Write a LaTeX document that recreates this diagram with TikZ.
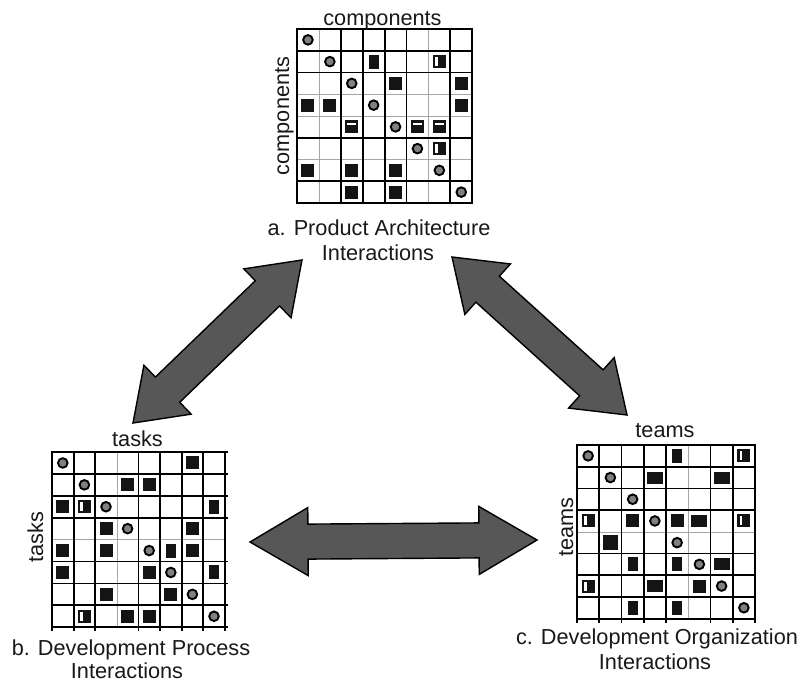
\documentclass[tikz,border=0pt]{standalone}
\usepackage{fontspec}
\setmainfont{Liberation Sans}
\usetikzlibrary{calc}

\tikzset{
  gthick/.style={line width=1.8pt, black, line cap=rect},
  gthin/.style={line width=0.6pt, black!35},
  lbl/.style={font=\fontsize{21.7}{24}\selectfont, inner sep=0pt, anchor=base, text=black!90},
  ring/.style={draw=black, fill=black!50, line width=1.9pt},
  blk/.style={fill=black!92},
  arrowbody/.style={fill=black!66, draw=black, line width=1.4pt, line join=miter},
}

% marks inside a cell (column, row)
\newcommand\dsmSq[2]{\fill[blk] ([shift={(-6.5pt,-6.5pt)}]#1+.5,#2+.5) rectangle ++(13pt,13pt);}
\newcommand\dsmTall[2]{\fill[blk] ([shift={(-5pt,-7pt)}]#1+.5,#2+.5) rectangle ++(10pt,14pt);}
\newcommand\dsmWide[2]{\fill[blk] ([shift={(-8pt,-6pt)}]#1+.5,#2+.5) rectangle ++(16pt,12pt);}
\newcommand\dsmBig[2]{\fill[blk] ([shift={(-7.5pt,-7.5pt)}]#1+.5,#2+.5) rectangle ++(15pt,15pt);}
\newcommand\dsmSide[2]{\dsmSq{#1}{#2}\fill[white] ([shift={(-4pt,-4.5pt)}]#1+.5,#2+.5) rectangle ++(2.6pt,9pt);}
\newcommand\dsmTop[2]{\dsmSq{#1}{#2}\fill[white] ([shift={(-4.5pt,2pt)}]#1+.5,#2+.5) rectangle ++(9pt,2.3pt);}
\newcommand\dsmRing[2]{\draw[ring] (#1+.5,#2+.5) circle (4.8pt);}

% block double arrow between two tips
\newcommand\dsmArrow[3]{%
  \coordinate (#1-h) at ($(#1)!#3!(#2)$);
  \coordinate (#2-h) at ($(#2)!#3!(#1)$);
  \filldraw[arrowbody] (#1)
    -- ($(#1-h)!34pt!90:(#2)$) -- ($(#1-h)!17.5pt!90:(#2)$)
    -- ($(#2-h)!17.5pt!-90:(#1)$) -- ($(#2-h)!34pt!-90:(#1)$)
    -- (#2)
    -- ($(#2-h)!34pt!90:(#1)$) -- ($(#2-h)!17.5pt!90:(#1)$)
    -- ($(#1-h)!17.5pt!-90:(#2)$) -- ($(#1-h)!34pt!-90:(#2)$)
    -- cycle;
}

\begin{document}
\begin{tikzpicture}[x=1pt, y=-1pt]
\fill[white] (0,0) rectangle (802,683);
\useasboundingbox (0,0) rectangle (802,683);

% ---------- a. product architecture (components x components)
\begin{scope}[shift={(297,29)}, x=21.9pt, y=-21.75pt]
  \foreach \i in {1,6} {\draw[gthin] (\i,0) -- (\i,8);}
  \foreach \i in {3,4,6} {\draw[gthin] (0,\i) -- (8,\i);}
  \foreach \i in {0,2,3,4,5,7,8} {\draw[gthick] (\i,0) -- (\i,8);}
  \foreach \i in {0,1,2,5,7,8} {\draw[gthick] (0,\i) -- (8,\i);}
  \foreach \k in {0,...,7} {\dsmRing{\k}{\k}}
  \dsmTall{3}{1} \dsmSide{6}{1}
  \dsmSq{4}{2} \dsmSq{7}{2}
  \dsmSq{0}{3} \dsmSq{1}{3} \dsmSq{7}{3}
  \dsmTop{2}{4} \dsmTop{5}{4} \dsmTop{6}{4}
  \dsmSide{6}{5}
  \dsmSq{0}{6} \dsmSq{2}{6} \dsmSq{4}{6}
  \dsmSq{2}{7} \dsmSq{4}{7}
\end{scope}
\node[lbl] (a-top) at (382.5,25) {components};
\node[lbl, rotate=90] (a-side) at (289,116) {components};
\node[lbl] (a-cap1) at (379,235) {a. Product Architecture};
\node[lbl] (a-cap2) at (378,260) {Interactions};

% ---------- b. development process (tasks x tasks)
\begin{scope}[shift={(52,452)}, x=21.6pt, y=-21.9pt]
  \foreach \i in {3} {\draw[gthin] (\i,0) -- (\i,8);}
  \foreach \i in {4} {\draw[gthin] (0,\i) -- (8,\i);}
  \foreach \i in {0,1,2,4,5,6,7,8} {\draw[gthick] (\i,0) -- (\i,8.15);}
  \foreach \i in {0,1,2,3,5,6,7,8} {\draw[gthick] (0,\i) -- (8.12,\i);}
  \foreach \k in {0,...,7} {\dsmRing{\k}{\k}}
  \dsmSq{6}{0}
  \dsmSq{3}{1} \dsmSq{4}{1}
  \dsmSq{0}{2} \dsmSide{1}{2} \dsmTall{7}{2}
  \dsmSq{2}{3} \dsmSq{6}{3}
  \dsmSq{0}{4} \dsmSq{2}{4} \dsmTall{5}{4} \dsmSq{6}{4}
  \dsmSq{0}{5} \dsmSq{4}{5} \dsmTall{7}{5}
  \dsmSq{2}{6} \dsmSq{5}{6}
  \dsmSide{1}{7} \dsmSq{3}{7} \dsmSq{4}{7}
\end{scope}
\node[lbl] (b-top) at (137.5,446) {tasks};
\node[lbl, rotate=90] (b-side) at (43,537) {tasks};
\node[lbl] (b-cap1) at (131,655) {b. Development Process};
\node[lbl] (b-cap2) at (127,678) {Interactions};

% ---------- c. development organization (teams x teams)
\begin{scope}[shift={(577,445)}, x=22.25pt, y=-21.7pt]
  \foreach \i in {5} {\draw[gthin] (\i,0) -- (\i,8);}
  \foreach \i in {4} {\draw[gthin] (0,\i) -- (8,\i);}
  \foreach \i in {0,1,2,3,4,6,7,8} {\draw[gthick] (\i,0) -- (\i,8.15);}
  \foreach \i in {0,1,2,3,5,6,7,8} {\draw[gthick] (0,\i) -- (8,\i);}
  \foreach \k in {0,...,7} {\dsmRing{\k}{\k}}
  \dsmTall{4}{0} \dsmSide{7}{0}
  \dsmWide{3}{1} \dsmWide{6}{1}
  \dsmSide{0}{3} \dsmSq{2}{3} \dsmSq{4}{3} \dsmWide{5}{3} \dsmSide{7}{3}
  \dsmBig{1}{4}
  \dsmTall{2}{5} \dsmTall{4}{5} \dsmWide{6}{5}
  \dsmSide{0}{6} \dsmWide{3}{6} \dsmSq{5}{6}
  \dsmTall{2}{7} \dsmTall{4}{7}
\end{scope}
\node[lbl] (c-top) at (665,437) {teams};
\node[lbl, rotate=90] (c-side) at (573,527) {teams};
\node[lbl] (c-cap1) at (657,644) {c. Development Organization};
\node[lbl] (c-cap2) at (655,669) {Interactions};

% ---------- interaction arrows
\coordinate (ab-a) at (302,260);
\coordinate (ab-b) at (133,423);
\coordinate (ac-a) at (452,257);
\coordinate (ac-c) at (627,415);
\coordinate (bc-b) at (250,542);
\coordinate (bc-c) at (537,540);
\dsmArrow{ab-b}{ab-a}{48pt}
\dsmArrow{ac-a}{ac-c}{48pt}
\dsmArrow{bc-b}{bc-c}{58pt}
\end{tikzpicture}
\end{document}
